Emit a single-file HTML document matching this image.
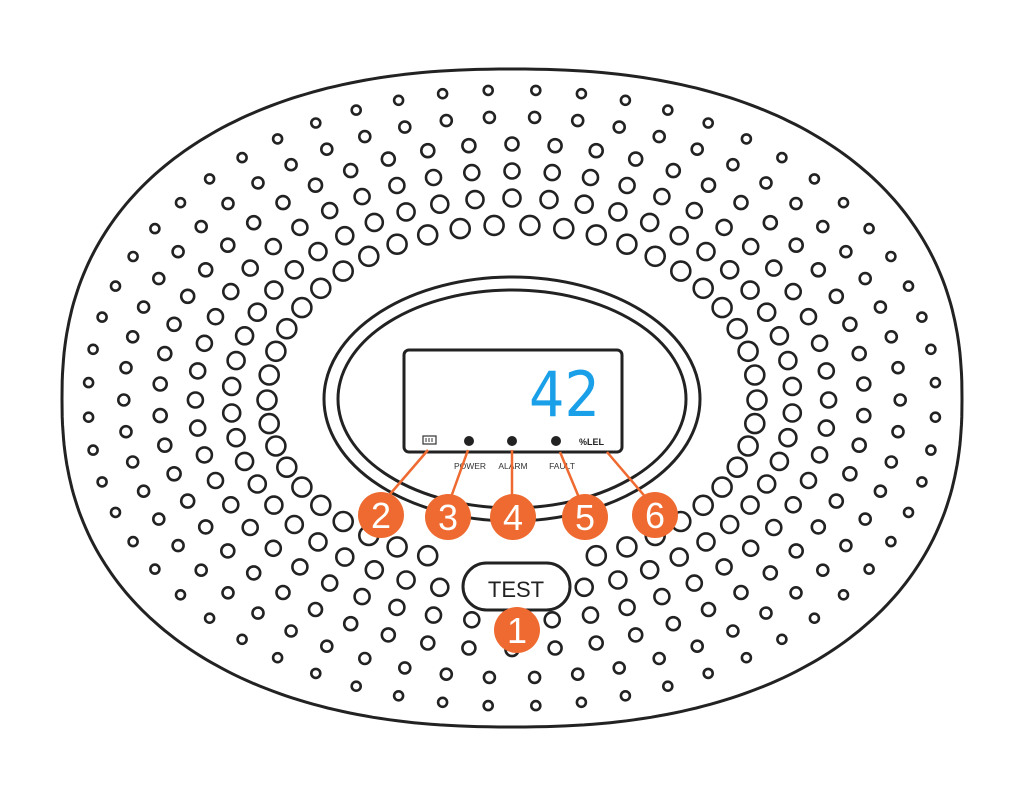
<!DOCTYPE html>
<html><head><meta charset="utf-8"><style>
html,body{margin:0;padding:0;background:#fff;width:1024px;height:798px;overflow:hidden}
svg{display:block}
</style></head><body>
<svg id="s" width="1024" height="798" viewBox="0 0 1024 798" xmlns="http://www.w3.org/2000/svg">
<path id="outer" fill="none" stroke="#222" stroke-width="3"/>
<g id="dots" fill="none" stroke="#222" stroke-width="2.6"></g>
<ellipse cx="512" cy="399" rx="188" ry="122" fill="#fff" stroke="#222" stroke-width="3"/>
<ellipse cx="512" cy="399" rx="174" ry="109" fill="#fff" stroke="#222" stroke-width="3"/>
<rect x="404" y="350" width="218" height="102" rx="5" fill="#fff" stroke="#222" stroke-width="3"/>
<text x="600" y="416" font-family="DejaVu Sans, sans-serif" font-size="62" fill="#1aa0e8" text-anchor="end" transform="translate(600 0) scale(0.9 1) translate(-600 0)">42</text>
<rect x="423" y="436" width="13" height="8" fill="none" stroke="#333" stroke-width="1.2"/>
<g stroke="#333" stroke-width="1"><line x1="426" y1="438" x2="426" y2="442"/><line x1="429" y1="438" x2="429" y2="442"/><line x1="432" y1="438" x2="432" y2="442"/></g>
<circle cx="469" cy="441" r="5" fill="#222"/>
<circle cx="512" cy="441" r="5" fill="#222"/>
<circle cx="556" cy="441" r="5" fill="#222"/>
<text x="579" y="445" font-family="Liberation Sans, sans-serif" font-size="9" font-weight="bold" fill="#222">%LEL</text>
<g font-family="Liberation Sans, sans-serif" font-size="8.5" fill="#333" text-anchor="middle">
<text x="470" y="469">POWER</text><text x="513" y="469">ALARM</text><text x="562" y="469">FAULT</text></g>
<g stroke="#ee6a30" stroke-width="2.5">
<line x1="428" y1="450" x2="385" y2="500"/>
<line x1="468" y1="450" x2="450" y2="500"/>
<line x1="512" y1="450" x2="512" y2="500"/>
<line x1="560" y1="452" x2="580" y2="500"/>
<line x1="607" y1="452" x2="648" y2="500"/>
</g>
<rect x="463" y="563" width="107" height="47" rx="23.5" fill="#fff" stroke="#222" stroke-width="3"/>
<text x="516" y="597" font-family="Liberation Sans, sans-serif" font-size="22" fill="#222" text-anchor="middle">TEST</text>
<g fill="#ee6a30"><circle cx="381" cy="515" r="23"/><circle cx="448" cy="517" r="23"/><circle cx="513" cy="517" r="23"/><circle cx="585" cy="517" r="23"/><circle cx="655" cy="515" r="23"/><circle cx="517" cy="630" r="23"/></g>
<g font-family="Liberation Sans, sans-serif" font-size="36" fill="#fff" text-anchor="middle">
<text x="381" y="528">2</text><text x="448" y="530">3</text><text x="513" y="530">4</text><text x="585" y="530">5</text><text x="655" y="528">6</text><text x="517" y="643">1</text></g>
</svg>
<script>
(function(){
var NS="http://www.w3.org/2000/svg";
function se(t,a,bt,bb,n,cx,cy){var c=Math.cos(t),s=Math.sin(t);
var x=cx+a*Math.sign(c)*Math.pow(Math.abs(c),2/n);
var b=s>0?bb:bt;var y=cy+b*Math.sign(s)*Math.pow(Math.abs(s),2/n);return [x,y];}
var d="";for(var i=0;i<=360;i++){var p=se(i/360*2*Math.PI,450,330,328,2.3,512,399);d+=(i?"L":"M")+p[0].toFixed(1)+" "+p[1].toFixed(1);}
document.getElementById("outer").setAttribute("d",d+"Z");
var g=document.getElementById("dots");
var R=6;
for(var k=0;k<R;k++){var f=k/(R-1);
var a=245+f*(424-245),bt=175+f*(310-175),bb=165+f*(306-165);
var r=9.5-f*5;var N=Math.round(46+f*14);N+=N%2;var off=(k%2)*0.5;
for(var j=0;j<N;j++){var t=(j+off)/N*2*Math.PI;var p=se(t,a,bt,bb,2.05,512,400);
var x=p[0],y=p[1];
if(x>455&&x<578&&y>555&&y<618)continue;
var c=document.createElementNS(NS,"circle");c.setAttribute("cx",x.toFixed(1));c.setAttribute("cy",y.toFixed(1));c.setAttribute("r",r.toFixed(1));g.appendChild(c);}}
})();
</script>
</body></html>
